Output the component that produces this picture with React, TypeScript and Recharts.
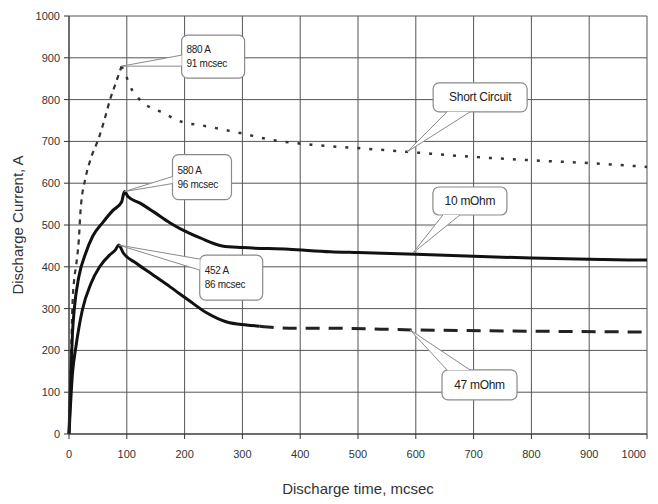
import { LineChart, Line, XAxis, YAxis, CartesianGrid, ReferenceDot } from 'recharts';

// time in mcsec, current in A
const shortRise = [
  [0, 0], [3, 150], [6, 310], [9, 370], [12, 400], [17, 465], [20, 535], [29, 615],
  [38, 660], [52, 710], [62, 755], [71, 800], [81, 840], [91, 880],
];
const shortDecay = [
  [91, 880], [100, 852], [109, 823], [123, 799], [163, 768], [197, 746], [227, 739],
  [296, 720], [353, 703], [429, 691], [500, 684], [585, 675], [699, 663], [798, 655],
  [901, 648], [1000, 639],
];
const tenMohm = [
  [0, 0], [3, 137], [6, 241], [9, 297], [17, 376], [29, 433], [41, 473], [59, 507],
  [76, 535], [91, 555], [96, 580], [102, 568], [122, 553], [146, 532], [175, 505],
  [207, 481], [227, 469], [265, 450], [300, 446], [380, 442], [452, 436], [500, 434],
  [600, 430], [700, 425], [800, 421], [900, 418], [1000, 416],
];
const fortySevenSolid = [
  [0, 0], [6, 145], [12, 209], [23, 296], [38, 360], [53, 400], [70, 428], [80, 440],
  [86, 452], [94, 433], [117, 408], [146, 380], [175, 352], [207, 320], [238, 290],
  [273, 268], [307, 261], [330, 258],
];
const fortySevenDashed = [
  [330, 258], [382, 253], [452, 253], [595, 249], [800, 246], [1000, 244],
];

const xTicks = [0, 100, 200, 300, 400, 500, 600, 700, 800, 900, 1000];
const yTicks = [0, 100, 200, 300, 400, 500, 600, 700, 800, 900, 1000];

const toRows = (pts: number[][]) => pts.map(([t, a]) => ({ t, a }));

type CalloutSpec = {
  x: number; y: number; dx: number; dy: number; w: number; h: number;
  base: number[][]; lines: string[]; size: number; center?: boolean;
};

const callouts: CalloutSpec[] = [
  { x: 91, y: 880, dx: 60, dy: -31, w: 63, h: 43, base: [[0, 20], [0, 31]], lines: ['880 A', '91 mcsec'], size: 10 },
  { x: 96, y: 580, dx: 48, dy: -37, w: 59, h: 45, base: [[0, 22], [0, 29]], lines: ['580 A', '96 mcsec'], size: 10 },
  { x: 86, y: 452, dx: 81, dy: 10, w: 63, h: 45, base: [[0, 4], [0, 15]], lines: ['452 A', '86 mcsec'], size: 10 },
  { x: 585, y: 675, dx: 26, dy: -69, w: 94, h: 29, base: [[14, 29], [37, 29]], lines: ['Short Circuit'], size: 12, center: true },
  { x: 595, y: 433, dx: 20, dy: -66, w: 74, h: 28, base: [[10, 28], [27, 28]], lines: ['10 mOhm'], size: 12, center: true },
  { x: 590, y: 249, dx: 32, dy: 40, w: 75, h: 30, base: [[5, 0], [28, 0]], lines: ['47 mOhm'], size: 12, center: true },
];

const FONT = "Arial, 'Liberation Sans', sans-serif";

function Callout(props: any) {
  const { cx, cy, spec } = props;
  const s: CalloutSpec = spec;
  const bx = cx + s.dx;
  const by = cy + s.dy;
  const [b1, b2] = s.base;
  const p1 = [bx + b1[0], by + b1[1]];
  const p2 = [bx + b2[0], by + b2[1]];
  const lineH = s.size + 4;
  const startY = by + s.h / 2 - ((s.lines.length - 1) * lineH) / 2;
  return (
    <g>
      <rect x={bx} y={by} width={s.w} height={s.h} rx={6} ry={6} fill="#fff" stroke="#8a8a8a" strokeWidth={1.2} />
      <polygon points={`${p1[0]},${p1[1]} ${cx},${cy} ${p2[0]},${p2[1]}`} fill="#fff" stroke="none" />
      <polyline points={`${p1[0]},${p1[1]} ${cx},${cy} ${p2[0]},${p2[1]}`} fill="none" stroke="#8a8a8a" strokeWidth={1} />
      {s.lines.map((ln, i) => (
        <text
          key={i}
          x={s.center ? bx + s.w / 2 : bx + 5}
          y={startY + i * lineH}
          textAnchor={s.center ? 'middle' : 'start'}
          dominantBaseline="central"
          fontFamily={FONT}
          fontSize={s.size}
          letterSpacing={-0.3}
          fill="#222"
        >
          {ln}
        </text>
      ))}
    </g>
  );
}

// last label would run past the right edge, so it is end-anchored
function XTick(props: any) {
  const { x, y, payload } = props;
  const last = payload.value === xTicks[xTicks.length - 1];
  return (
    <text
      x={last ? x + 4 : x}
      y={y}
      dy={11}
      textAnchor={last ? 'end' : 'middle'}
      fontSize={11}
      fill="#333"
      fontFamily={FONT}
    >
      {payload.value}
    </text>
  );
}

const tickStyle = { fontSize: 11, fill: '#333', fontFamily: FONT };

export default function App() {
  return (
    <div style={{ width: 650, height: 496, background: '#fff' }}>
      <LineChart width={650} height={496} margin={{ top: 8, right: 11, left: 0, bottom: 0 }}>
        <CartesianGrid stroke="#555" strokeWidth={1} />
        <XAxis
          type="number"
          dataKey="t"
          domain={[0, 1000]}
          ticks={xTicks}
          height={70}
          tick={<XTick />}
          tickSize={5}
          tickMargin={8}
          stroke="#333"
          label={{
            value: 'Discharge time, mcsec',
            position: 'insideBottom',
            offset: 10,
            style: { fontSize: 15, fill: '#333', fontFamily: FONT },
          }}
        />
        <YAxis
          type="number"
          domain={[0, 1000]}
          ticks={yTicks}
          width={61}
          tick={tickStyle}
          tickSize={5}
          tickMargin={4}
          stroke="#333"
          label={{
            value: 'Discharge Current, A',
            angle: -90,
            position: 'insideLeft',
            offset: 10,
            style: { fontSize: 15, fill: '#333', textAnchor: 'middle', fontFamily: FONT },
          }}
        />
        <Line data={toRows(shortRise)} dataKey="a" type="monotone" stroke="#333" strokeWidth={2.2} strokeDasharray="5 5" dot={false} isAnimationActive={false} />
        <Line data={toRows(shortDecay)} dataKey="a" type="monotone" stroke="#333" strokeWidth={2.5} strokeDasharray="3 9" dot={false} isAnimationActive={false} />
        <Line data={toRows(tenMohm)} dataKey="a" type="monotone" stroke="#111" strokeWidth={3} dot={false} isAnimationActive={false} />
        <Line data={toRows(fortySevenSolid)} dataKey="a" type="monotone" stroke="#111" strokeWidth={3} dot={false} isAnimationActive={false} />
        <Line data={toRows(fortySevenDashed)} dataKey="a" type="monotone" stroke="#222" strokeWidth={3} strokeDasharray="14 9" dot={false} isAnimationActive={false} />
        {callouts.map((c, i) => (
          <ReferenceDot key={i} x={c.x} y={c.y} r={0} shape={(p: any) => <Callout {...p} spec={c} />} />
        ))}
      </LineChart>
    </div>
  );
}
